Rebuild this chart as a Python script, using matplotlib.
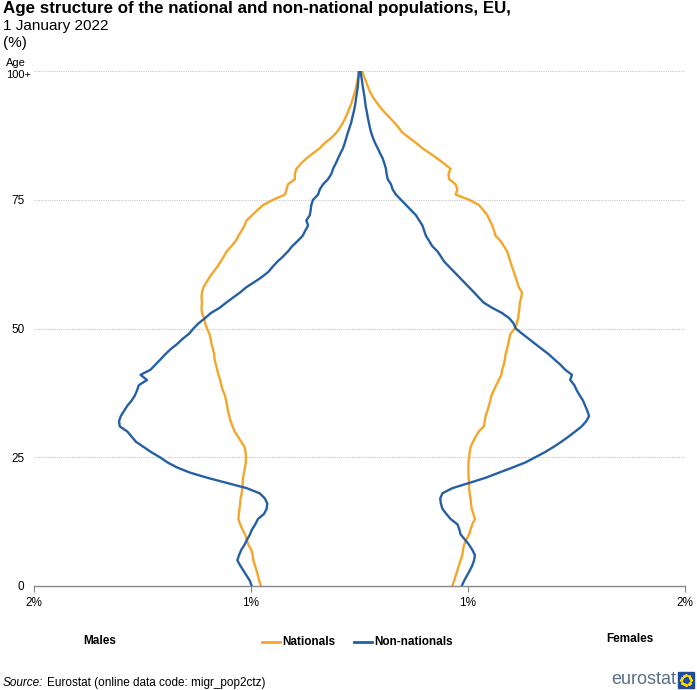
import numpy as np
import matplotlib
matplotlib.use('Agg')
import matplotlib.pyplot as plt
from matplotlib.patches import Rectangle

plt.rcParams['font.family'] = ['Liberation Sans', 'DejaVu Sans']

ages = list(range(0, 101))

# % of total population, males drawn to the left
males_nat = [0.454, 0.462, 0.468, 0.474, 0.482, 0.489, 0.492, 0.498, 0.512, 0.520,
             0.527, 0.540, 0.550, 0.558, 0.556, 0.553, 0.550, 0.548, 0.543, 0.540,
             0.538, 0.537, 0.532, 0.528, 0.524, 0.523, 0.525, 0.530, 0.545, 0.560,
             0.575, 0.585, 0.594, 0.600, 0.606, 0.610, 0.615, 0.620, 0.630, 0.637,
             0.642, 0.650, 0.656, 0.662, 0.668, 0.670, 0.675, 0.682, 0.686, 0.692,
             0.703, 0.711, 0.716, 0.726, 0.728, 0.726, 0.728, 0.726, 0.719, 0.705,
             0.690, 0.673, 0.655, 0.640, 0.625, 0.612, 0.590, 0.570, 0.558, 0.543,
             0.530, 0.520, 0.495, 0.470, 0.443, 0.398, 0.344, 0.336, 0.330, 0.298,
             0.298, 0.291, 0.270, 0.245, 0.215, 0.183, 0.160, 0.130, 0.107, 0.090,
             0.076, 0.064, 0.054, 0.044, 0.035, 0.028, 0.021, 0.015, 0.010, 0.006,
             0.003]
males_non = [0.497, 0.505, 0.520, 0.535, 0.550, 0.563, 0.555, 0.545, 0.530, 0.518,
             0.505, 0.495, 0.480, 0.468, 0.440, 0.428, 0.425, 0.436, 0.460, 0.520,
             0.610, 0.700, 0.780, 0.840, 0.885, 0.920, 0.960, 0.995, 1.030, 1.050,
             1.070, 1.105, 1.108, 1.100, 1.085, 1.070, 1.050, 1.035, 1.025, 1.017,
             0.979, 1.009, 0.963, 0.940, 0.917, 0.895, 0.870, 0.840, 0.815, 0.785,
             0.765, 0.742, 0.712, 0.685, 0.645, 0.615, 0.583, 0.550, 0.522, 0.485,
             0.450, 0.420, 0.400, 0.378, 0.352, 0.329, 0.310, 0.285, 0.262, 0.250,
             0.237, 0.245, 0.229, 0.225, 0.222, 0.214, 0.191, 0.183, 0.168, 0.145,
             0.130, 0.122, 0.110, 0.099, 0.088, 0.076, 0.068, 0.061, 0.054, 0.046,
             0.038, 0.033, 0.027, 0.022, 0.018, 0.015, 0.011, 0.008, 0.006, 0.004,
             0.002]
females_nat = [0.428, 0.436, 0.443, 0.451, 0.458, 0.466, 0.474, 0.477, 0.482, 0.492,
               0.505, 0.512, 0.520, 0.532, 0.525, 0.517, 0.514, 0.512, 0.508, 0.505,
               0.505, 0.503, 0.502, 0.502, 0.502, 0.505, 0.508, 0.512, 0.523, 0.535,
               0.550, 0.573, 0.577, 0.581, 0.589, 0.596, 0.603, 0.608, 0.619, 0.630,
               0.642, 0.654, 0.657, 0.665, 0.670, 0.673, 0.680, 0.685, 0.690, 0.696,
               0.716, 0.725, 0.731, 0.734, 0.737, 0.739, 0.745, 0.749, 0.734, 0.727,
               0.719, 0.711, 0.703, 0.695, 0.688, 0.680, 0.665, 0.650, 0.627, 0.620,
               0.612, 0.600, 0.589, 0.570, 0.550, 0.505, 0.443, 0.451, 0.443, 0.413,
               0.410, 0.420, 0.390, 0.359, 0.325, 0.290, 0.262, 0.230, 0.199, 0.180,
               0.160, 0.138, 0.115, 0.095, 0.077, 0.061, 0.048, 0.038, 0.030, 0.020,
               0.012]
females_non = [0.471, 0.482, 0.495, 0.508, 0.520, 0.528, 0.532, 0.520, 0.505, 0.486,
               0.466, 0.460, 0.451, 0.420, 0.400, 0.382, 0.375, 0.372, 0.382, 0.428,
               0.505, 0.580, 0.642, 0.705, 0.765, 0.810, 0.855, 0.894, 0.930, 0.963,
               0.994, 1.024, 1.045, 1.058, 1.050, 1.040, 1.030, 1.015, 1.001, 0.990,
               0.971, 0.979, 0.948, 0.925, 0.898, 0.872, 0.841, 0.810, 0.780, 0.749,
               0.720, 0.710, 0.690, 0.657, 0.612, 0.573, 0.550, 0.528, 0.505, 0.482,
               0.459, 0.436, 0.413, 0.390, 0.375, 0.359, 0.335, 0.321, 0.306, 0.298,
               0.290, 0.275, 0.260, 0.237, 0.214, 0.191, 0.168, 0.153, 0.145, 0.130,
               0.125, 0.122, 0.115, 0.107, 0.095, 0.084, 0.072, 0.062, 0.054, 0.048,
               0.043, 0.038, 0.034, 0.029, 0.026, 0.023, 0.019, 0.015, 0.012, 0.008,
               0.005]

x_ticks = [-1.5, -0.5, 0.5, 1.5]
x_ticklabels = ['2%', '1%', '1%', '2%']
y_ticks = [0, 25, 50, 75, 100]
y_ticklabels = ['0', '25', '50', '75', '100+']

c_nat = '#f4a62a'
c_non = '#2660a4'

fig = plt.figure(figsize=(6.97, 6.90), dpi=100)
ax = fig.add_axes([34 / 697, 1 - 586 / 690, 651 / 697, 515 / 690])

for y in y_ticks[1:]:
    ax.axhline(y, color='#c8c8c8', lw=0.8, ls=(0, (1, 1)), zorder=0)

ax.plot(np.negative(males_nat), ages, color=c_nat, lw=1.7, solid_joinstyle='round')
ax.plot(females_nat, ages, color=c_nat, lw=1.7, solid_joinstyle='round')
ax.plot(np.negative(males_non), ages, color=c_non, lw=1.7, solid_joinstyle='round')
ax.plot(females_non, ages, color=c_non, lw=1.7, solid_joinstyle='round')

ax.set_xlim(-1.5, 1.5)
ax.set_ylim(0, 100)
ax.set_xticks(x_ticks)
ax.set_xticklabels(x_ticklabels, fontsize=8.5)
ax.set_yticks(y_ticks)
ax.set_yticklabels(y_ticklabels[:-1] + [''], fontsize=8.5)
ax.tick_params(axis='x', length=4, color='#888888', pad=4)
ax.tick_params(axis='y', length=0, pad=7)
for s in ['top', 'right', 'left']:
    ax.spines[s].set_visible(False)
ax.spines['bottom'].set_color('#888888')
ax.spines['bottom'].set_linewidth(1.0)
ax.spines['bottom'].set_zorder(5)

# overlay in pixel coordinates for the free texts
ov = fig.add_axes([0, 0, 1, 1], facecolor='none')
ov.set_axis_off()
ov.set_xlim(0, 697)
ov.set_ylim(690, 0)

ov.text(16, 63, 'Age', fontsize=8, ha='center', va='center')
ov.text(31, 75, y_ticklabels[-1], fontsize=8, ha='right', va='center')

# titles
ov.text(3, 9, 'Age structure of the national and non-national populations, EU,',
        fontsize=12.2, fontweight='bold', ha='left', va='center')
ov.text(3, 26, '1 January 2022', fontsize=11, ha='left', va='center')
ov.text(3, 43, '(%)', fontsize=11, ha='left', va='center')

# side labels and legend
ov.text(100, 641, 'Males', fontsize=8.5, fontweight='bold', ha='center', va='center')
ov.text(630, 639, 'Females', fontsize=8.5, fontweight='bold', ha='center', va='center')
ov.plot([262, 280], [642, 642], color=c_nat, lw=2)
ov.text(282, 642, 'Nationals', fontsize=8.5, fontweight='bold', va='center', ha='left')
ov.plot([354, 372], [642, 642], color=c_non, lw=2)
ov.text(374, 642, 'Non-nationals', fontsize=8.5, fontweight='bold', va='center', ha='left')

# source
ov.text(3, 683, 'Source:', fontsize=8.5, style='italic', va='center', ha='left')
ov.text(47, 683, 'Eurostat (online data code: migr_pop2ctz)', fontsize=8.5, va='center', ha='left')

# eurostat logo
ov.text(676, 680, 'eurostat', fontsize=13, color='#5b6f84', va='center', ha='right')
ov.add_patch(Rectangle((678, 672), 16, 16, color='#1f4ba0'))
ang = np.linspace(0, 2 * np.pi, 12, endpoint=False)
ov.scatter(686 + 5 * np.cos(ang), 680 + 5 * np.sin(ang), s=1.5, color='#ffdd00', zorder=5)

fig.savefig('out.png', dpi=100)
